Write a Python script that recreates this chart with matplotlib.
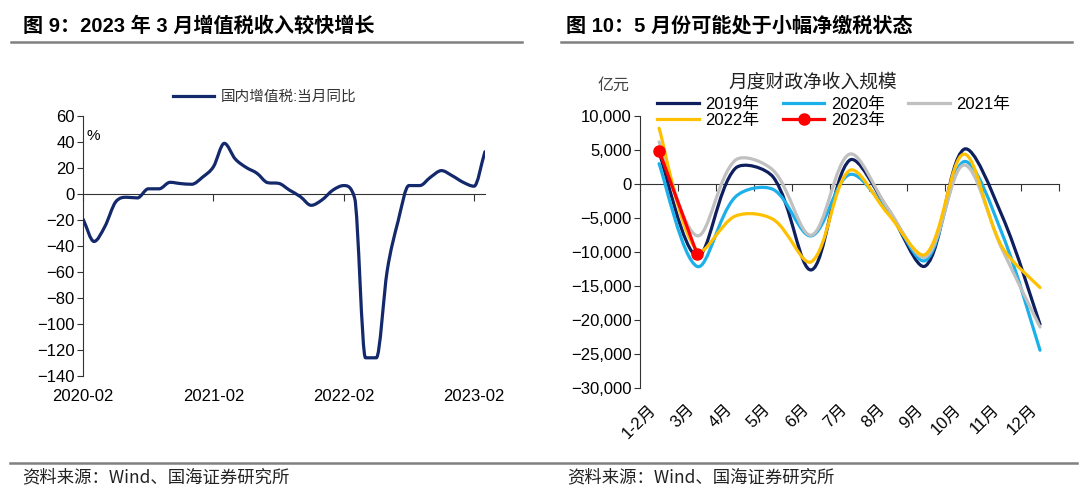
import matplotlib
matplotlib.use("Agg")
import matplotlib.pyplot as plt
import numpy as np
from matplotlib.path import Path
from matplotlib.patches import PathPatch
from matplotlib.lines import Line2D
import matplotlib.transforms as mtransforms

plt.rcParams['font.family'] = ['Liberation Sans', 'Noto Sans CJK SC', 'DejaVu Sans']

# ---- left chart data: 国内增值税 当月同比 (%), 2020-02 .. 2023-03
vat_months = ["2020-02", "2020-03", "2020-04", "2020-05", "2020-06", "2020-07",
              "2020-08", "2020-09", "2020-10", "2020-11", "2020-12", "2021-01",
              "2021-02", "2021-03", "2021-04", "2021-05", "2021-06", "2021-07",
              "2021-08", "2021-09", "2021-10", "2021-11", "2021-12", "2022-01",
              "2022-02", "2022-03", "2022-04", "2022-05", "2022-06", "2022-07",
              "2022-08", "2022-09", "2022-10", "2022-11", "2022-12", "2023-01",
              "2023-02", "2023-03"]
vat_yoy = [-19.5, -36.5, -25, -6, -2.5, -3, 4, 4, 9, 8, 7.5, 13,
           21, 39, 27, 20.5, 16, 8.7, 8.2, 3, -2, -8.7, -4.5, 3,
           6.5, -3, -126, -126, -59, -21, 6.5, 6.5, 13, 18, 14, 9,
           6, 32.5]
vat_xticks = ["2020-02", "2021-02", "2022-02", "2023-02"]

# ---- right chart data: 月度财政净收入规模 (亿元)
months = ["1-2月", "3月", "4月", "5月", "6月", "7月", "8月", "9月", "10月", "11月", "12月"]
net_2019 = [4700, -10600, 2300, 1000, -12600, 3500, -3600, -12000, 5100, -4600, -20600]
net_2020 = [3000, -12100, -1900, -800, -7600, 1400, -4000, -11200, 3300, -7200, -24400]
net_2021 = [6200, -7600, 3500, 2000, -7500, 4400, -3500, -10700, 2800, -9500, -21000]
net_2022 = [8200, -9800, -4700, -5200, -11400, 2000, -4300, -10300, 4400, -9200, -15200]
net_2023 = [4900, -10300]


def clamped_path(x, y):
    # smoothed line with clamped tangents (no overshoot at extremes)
    x = np.asarray(x, float)
    y = np.asarray(y, float)
    n = len(x)
    h = np.diff(x)
    d = np.diff(y) / h
    m = np.zeros(n)
    m[0], m[-1] = d[0], d[-1]
    for k in range(1, n - 1):
        if d[k - 1] * d[k] > 0:
            t = 0.5 * (d[k - 1] + d[k])
            lim = 3 * min(abs(d[k - 1]), abs(d[k]))
            m[k] = np.sign(t) * min(abs(t), lim)
    verts = [(x[0], y[0])]
    codes = [Path.MOVETO]
    for i in range(n - 1):
        verts += [(x[i] + h[i] / 3, y[i] + m[i] * h[i] / 3),
                  (x[i + 1] - h[i] / 3, y[i + 1] - m[i + 1] * h[i] / 3),
                  (x[i + 1], y[i + 1])]
        codes += [Path.CURVE4] * 3
    return Path(verts, codes)


def excel_path(ax, x, y):
    # Excel-like smoothing: control arms weighted by on-screen segment length
    pts = np.column_stack([x, y]).astype(float)
    bbox = ax.get_position()
    fw, fh = ax.figure.get_size_inches()
    sx = bbox.width * fw / np.diff(ax.get_xlim())[0]
    sy = bbox.height * fh / np.diff(ax.get_ylim())[0]
    scale = np.array([sx, sy])
    n = len(pts)
    seg = [np.hypot(*((pts[i + 1] - pts[i]) * scale)) for i in range(n - 1)]
    c_in = [None] * n
    c_out = [None] * n
    for i in range(n):
        if i == 0:
            c_out[i] = pts[0] + (pts[1] - pts[0]) / 6
        elif i == n - 1:
            c_in[i] = pts[i] - (pts[i] - pts[i - 1]) / 6
        else:
            tan = pts[i + 1] - pts[i - 1]
            w_in = seg[i - 1] / (seg[i - 1] + seg[i])
            w_out = seg[i] / (seg[i - 1] + seg[i])
            c_in[i] = pts[i] - tan * w_in / 3
            c_out[i] = pts[i] + tan * w_out / 3
    verts = [pts[0]]
    codes = [Path.MOVETO]
    for i in range(n - 1):
        verts += [c_out[i], c_in[i + 1], pts[i + 1]]
        codes += [Path.CURVE4] * 3
    return Path(verts, codes)


fig = plt.figure(figsize=(10.8, 4.99), dpi=100)

# header / footer
fig.text(0.021, 0.948, "图 9：2023 年 3 月增值税收入较快增长", fontsize=14.5,
         fontweight="bold", va="center", ha="left")
fig.text(0.524, 0.948, "图 10：5 月份可能处于小幅净缴税状态", fontsize=14.5,
         fontweight="bold", va="center", ha="left")
fig.add_artist(Line2D([0.010, 0.483], [0.916, 0.916], color="#808080", lw=1.8))
fig.add_artist(Line2D([0.519, 0.993], [0.916, 0.916], color="#808080", lw=1.8))
fig.add_artist(Line2D([0.009, 0.997], [0.072, 0.072], color="#808080", lw=1.8))
fig.text(0.021, 0.043, "资料来源：Wind、国海证券研究所", fontsize=12.5, va="center",
         family=["Noto Sans CJK SC", "DejaVu Sans"], color="#222222")
fig.text(0.525, 0.043, "资料来源：Wind、国海证券研究所", fontsize=12.5, va="center",
         family=["Noto Sans CJK SC", "DejaVu Sans"], color="#222222")

# ---------------- left chart
navy = "#13296b"
ax1 = fig.add_axes([0.077, 0.2465, 0.372, 0.521])
x1 = np.arange(len(vat_yoy))
ax1.add_patch(PathPatch(clamped_path(x1, vat_yoy), fill=False,
                        edgecolor=navy, lw=2.3, capstyle="round",
                        joinstyle="round", zorder=3))
ax1.set_xlim(0, len(vat_yoy) - 1)
ax1.set_ylim(-140, 60)
ax1.set_yticks(np.arange(-140, 61, 20))
ax1.spines["top"].set_visible(False)
ax1.spines["right"].set_visible(False)
ax1.spines["bottom"].set_position(("data", 0))
ax1.spines["bottom"].set_color("#333333")
ax1.spines["left"].set_color("#333333")
tick_pos = [vat_months.index(m) for m in vat_xticks]
ax1.set_xticks(tick_pos)
ax1.set_xticklabels([])
ax1.tick_params(axis="x", direction="out", length=5, color="#333333")
ax1.tick_params(axis="y", direction="out", length=4, color="#333333",
                labelsize=12, pad=2)
tr1 = mtransforms.blended_transform_factory(ax1.transData, ax1.transAxes)
for p, lab in zip(tick_pos, vat_xticks):
    ax1.text(p, -0.05, lab, transform=tr1, ha="center", va="top", fontsize=12)
ax1.text(0.008, 0.95, "%", transform=ax1.transAxes, fontsize=11, va="top")
ax1.legend(handles=[Line2D([], [], color=navy, lw=2.3)], labels=["国内增值税:当月同比"],
           loc="center", bbox_to_anchor=(0.245, 0.806), bbox_transform=fig.transFigure,
           frameon=False, fontsize=10.5, handlelength=2.8, handletextpad=0.5,
           labelcolor="#333333")

# ---------------- right chart
colors = {"2019年": "#0e1f5e", "2020年": "#1cb0ea", "2021年": "#c0c0c0",
          "2022年": "#ffc000", "2023年": "#ff0000"}
ax2 = fig.add_axes([0.5926, 0.2218, 0.388, 0.5457])
x2 = np.arange(len(months)) + 0.5
ax2.set_xlim(0, len(months))
ax2.set_ylim(-30000, 10000)
for lab, vals in [("2019年", net_2019), ("2020年", net_2020),
                  ("2021年", net_2021), ("2022年", net_2022)]:
    ax2.add_patch(PathPatch(excel_path(ax2, x2[:len(vals)], vals), fill=False,
                            edgecolor=colors[lab], lw=2.3, capstyle="round",
                            joinstyle="round", zorder=3))
ax2.plot(x2[:len(net_2023)], net_2023, color=colors["2023年"], lw=2.3,
         marker="o", ms=8, zorder=4)
ax2.set_yticks(np.arange(-30000, 10001, 5000))
ax2.yaxis.set_major_formatter(matplotlib.ticker.StrMethodFormatter("{x:,.0f}"))
ax2.spines["top"].set_visible(False)
ax2.spines["right"].set_visible(False)
ax2.spines["bottom"].set_position(("data", 0))
ax2.spines["bottom"].set_color("#333333")
ax2.spines["left"].set_color("#333333")
ax2.set_xticks(np.arange(0, len(months) + 1))
ax2.set_xticklabels([])
ax2.tick_params(axis="x", direction="out", length=5, color="#333333")
ax2.tick_params(axis="y", direction="out", length=4, color="#333333",
                labelsize=12, pad=2)
tr2 = mtransforms.blended_transform_factory(ax2.transData, ax2.transAxes)
for p, lab in zip(x2, months):
    ax2.text(p, -0.05, lab, transform=tr2, ha="right", va="top", fontsize=12,
             rotation=45)
fig.text(0.753, 0.836, "月度财政净收入规模", fontsize=13.5, ha="center", va="center",
         family=["Noto Sans CJK SC", "DejaVu Sans"], color="#222222")
fig.text(0.553, 0.830, "亿元", fontsize=11.5, ha="left", va="center",
         family=["Noto Sans CJK SC", "DejaVu Sans"], color="#444444")

order = ["2019年", "2022年", "2020年", "2023年", "2021年"]
handles = []
for lab in order:
    if lab == "2023年":
        handles.append(Line2D([], [], color=colors[lab], lw=2.3, marker="o", ms=8))
    else:
        handles.append(Line2D([], [], color=colors[lab], lw=2.3))
ax2.legend(handles=handles, labels=order, ncol=3, loc="center",
           bbox_to_anchor=(0.772, 0.7745), bbox_transform=fig.transFigure,
           frameon=False, fontsize=12, handlelength=2.5, handletextpad=0.4,
           columnspacing=1.4, labelspacing=0.05, borderpad=0)

fig.savefig("out.png", dpi=100)
